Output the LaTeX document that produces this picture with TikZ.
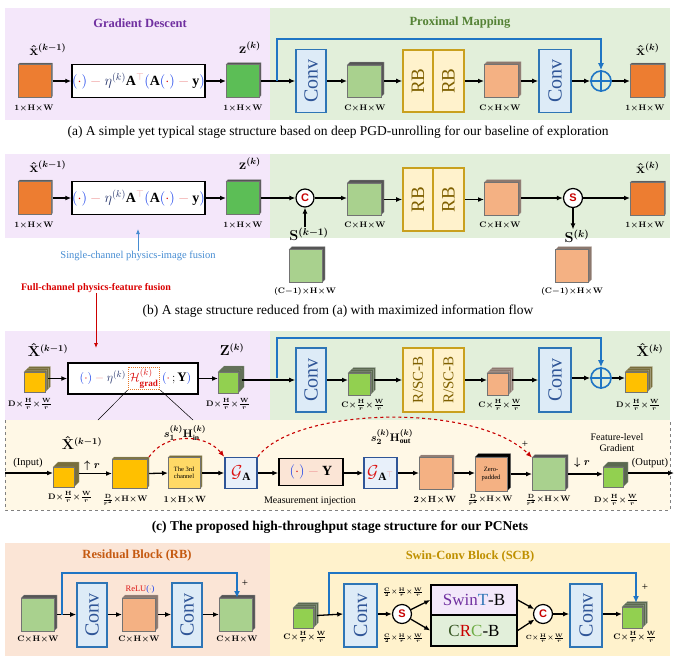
\documentclass[tikz,border=0pt]{standalone}
\usepackage{fontspec}
\setmainfont{Liberation Serif}
\newfontfamily\sansb{Liberation Sans}
\usepackage{amsmath,amssymb}
\usepackage{graphicx}
\usetikzlibrary{arrows.meta,calc}

\definecolor{bgpurple}{RGB}{244,231,250}
\definecolor{bggreen}{RGB}{226,239,218}
\definecolor{bgpeach}{RGB}{251,229,214}
\definecolor{bgyellow}{RGB}{255,242,204}
\definecolor{bgcream}{RGB}{255,248,230}
\definecolor{corange}{RGB}{237,125,49}
\definecolor{cgreen}{RGB}{92,190,86}
\definecolor{clgreen}{RGB}{169,209,142}
\definecolor{clorange}{RGB}{244,177,131}
\definecolor{cbgreen}{RGB}{146,208,80}
\definecolor{cyellow}{RGB}{255,192,0}
\definecolor{clyellow}{RGB}{255,217,102}
\definecolor{skipblue}{RGB}{31,117,196}
\definecolor{convfill}{RGB}{221,235,247}
\definecolor{convdraw}{RGB}{46,117,182}
\definecolor{convtext}{RGB}{47,85,151}
\definecolor{rbdraw}{RGB}{201,160,30}
\definecolor{rbtext}{RGB}{127,96,0}
\definecolor{tpurple}{RGB}{112,48,160}
\definecolor{tgreen}{RGB}{84,130,53}
\definecolor{tbrown}{RGB}{197,90,17}
\definecolor{tgold}{RGB}{191,144,0}
\definecolor{fblue}{RGB}{20,60,235}
\definecolor{fred}{RGB}{220,20,20}
\definecolor{fpink}{RGB}{238,150,150}
\definecolor{fnavy}{RGB}{40,55,110}
\definecolor{cred}{RGB}{200,0,0}
\definecolor{lightblue}{RGB}{70,140,210}
\definecolor{gabox}{RGB}{232,240,250}
\definecolor{gadraw}{RGB}{47,85,151}
\definecolor{injfill}{RGB}{251,229,214}
\definecolor{sdark}{RGB}{85,85,85}
\definecolor{solive}{RGB}{120,110,60}
\definecolor{sgreen}{RGB}{90,105,80}
\definecolor{sbrown}{RGB}{140,120,110}
\definecolor{swinfill}{RGB}{243,232,250}
\definecolor{crcdg}{RGB}{55,86,35}
\definecolor{crcg}{RGB}{112,173,71}
\definecolor{swint}{RGB}{46,117,182}
\definecolor{hgdraw}{RGB}{230,120,40}

\newcommand\tightmu{\medmuskip=0.5mu\relax}

\tikzset{
 arr/.style={-{Latex[length=6pt,width=5pt]}, line width=1.3pt, draw=black},
 thinarr/.style={-{Latex[length=5pt,width=4pt]}, line width=0.8pt},
 skiparr/.style={-{Latex[length=7pt,width=6pt]}, line width=1.8pt, draw=skipblue},
 cubef/.style={draw=black!55, line width=0.4pt, inner sep=0pt, outer sep=0pt},
 convbox/.style={draw=convdraw, fill=convfill, line width=1.6pt, minimum width=30, minimum height=63, inner sep=0, text=convtext, font=\fontsize{20}{20}\selectfont},
 rbbox/.style={draw=rbdraw, fill=bgyellow, line width=1.6pt, minimum width=30, minimum height=62, inner sep=0, text=rbtext, font=\fontsize{19}{19}\selectfont},
 fbox/.style={draw=black, fill=white, line width=1.5pt, minimum width=133, minimum height=33, inner sep=0, font=\fontsize{14}{15}\selectfont},
 dim/.style={inner sep=0, font=\fontsize{8}{9}\selectfont\boldmath\tightmu},
 sdim/.style={inner sep=0, font=\fontsize{6}{7}\selectfont\boldmath\tightmu},
 sym/.style={inner sep=0, font=\fontsize{13.5}{15}\selectfont\boldmath},
 ttl/.style={inner sep=0, font=\fontsize{12.5}{14}\selectfont\bfseries},
 captxt/.style={inner sep=0, font=\fontsize{13.5}{16}\selectfont},
 txt/.style={inner sep=0, font=\fontsize{10}{11}\selectfont, align=center},
 tinytxt/.style={inner sep=0, font=\fontsize{6.5}{7.5}\selectfont, align=center},
 oplus/.style={circle, draw=skipblue, line width=1.6pt, minimum size=20, inner sep=0},
 circ/.style={circle, draw=black, fill=white, line width=1.2pt, minimum size=18, inner sep=0, font=\sansb\bfseries\fontsize{11}{11}\selectfont, text=cred},
 gbox/.style={draw=gadraw, fill=gabox, line width=1.5pt, minimum width=32, minimum height=31, inner sep=0, font=\fontsize{16}{16}\selectfont},
 redd/.style={draw=cred, dashed, line width=1.1pt, -{Latex[length=6pt,width=5pt]}},
}

% name, cx, cy, w, h, front, side, layers, delta
\newcommand\mkcube[9]{%
  \foreach \i in {#8,...,1}{%
    \filldraw[fill=#7, draw=#7!55!white, line width=0.3pt]
      ({#2-#4/2},{#3-#5/2}) -- ++({\i*#9},{-\i*#9}) -- ++(#4,0) -- ++(0,#5)
      -- ({#2+#4/2},{#3+#5/2}) -- ({#2+#4/2},{#3-#5/2}) -- cycle;
  }%
  \node[cubef, fill=#6, minimum width=#4, minimum height=#5] (#1) at (#2,#3) {};
}
\newcommand\dimCHW{$\mathbf{C}\times\mathbf{H}\times\mathbf{W}$}
\newcommand\dimOHW{$\mathbf{1}\times\mathbf{H}\times\mathbf{W}$}
\newcommand\dimDr{$\mathbf{D}\times\frac{\mathbf{H}}{r}\times\frac{\mathbf{W}}{r}$}
\newcommand\dimCr{$\mathbf{C}\times\frac{\mathbf{H}}{r}\times\frac{\mathbf{W}}{r}$}
\newcommand\dimDrr{$\frac{\mathbf{D}}{r^2}\times\mathbf{H}\times\mathbf{W}$}
\newcommand\dimCm{$(\mathbf{C}-\mathbf{1})\times\mathbf{H}\times\mathbf{W}$}
\newcommand\pdot{\textcolor{fblue}{(}\textcolor{fred}{\cdot}\textcolor{fblue}{)}}
\newcommand\pmin{\mathbin{\textcolor{fpink}{-}}}
\newcommand\formA{$\pdot\pmin\textcolor{fnavy}{\eta^{(k)}}\mathbf{A}^{\textcolor{fpink}{\top}}\textcolor{fblue}{(}\mathbf{A}\pdot\pmin\mathbf{y}\textcolor{fblue}{)}$}
\newcommand\convtxt{\rotatebox{90}{Conv}}

\begin{document}
\begin{tikzpicture}[x=1pt,y=-1pt]
\useasboundingbox (0,0) rectangle (675,662);

%================ backgrounds ================
\fill[bgpurple] (5,8) rectangle (270,120);
\fill[bggreen] (270,8) rectangle (670,120);
\fill[bgpurple] (5,154) rectangle (270,238);
\fill[bggreen] (270,154) rectangle (670,238);
\fill[bgpurple] (5,331) rectangle (270,420);
\fill[bggreen] (270,331) rectangle (670,420);
\fill[bgcream] (5,420) rectangle (670,510);
\draw[gray, dashed, line width=0.6pt] (5,420) -- (5,510) -- (670,510) -- (670,420);
\fill[bgpeach] (5,543) rectangle (270,656);
\fill[bgyellow] (270,543) rectangle (670,656);

%================ (a) ================
\node[ttl, text=tpurple] (ta) at (140,23) {Gradient Descent};
\node[ttl, text=tgreen] (tb) at (460,23) {Proximal Mapping};

\mkcube{a1}{34.5}{81}{33}{33}{corange}{sdark}{1}{1.5}
\node[sym] (la1) at (48,50) {$\hat{\mathbf{x}}^{(k-1)}$};
\node[dim] (da1) at (34,108) {\dimOHW};
\node[fbox] (af) at (138.5,81) {\formA};
\mkcube{a2}{242.5}{81}{33}{33}{cgreen}{sdark}{1}{2}
\node[sym] (la2) at (250,48) {$\mathbf{z}^{(k)}$};
\node[dim] (da2) at (243,108) {\dimOHW};
\node[convbox] (a3) at (311,81) {\convtxt};
\mkcube{a4}{364}{81}{34}{32}{clgreen}{sdark}{1}{3}
\node[dim] (da4) at (365,108) {\dimCHW};
\node[rbbox] (a5) at (418,81) {\rotatebox{90}{RB}};
\node[rbbox, minimum width=31] (a6) at (448.5,81) {\rotatebox{90}{RB}};
\mkcube{a7}{501}{81}{34}{33}{clorange}{sbrown}{1}{3}
\node[dim] (da7) at (500,108) {\dimCHW};
\node[convbox, minimum width=32] (a8) at (555,81) {\convtxt};
\node[oplus] (a9) at (601,81) {};
\draw[skipblue, line width=1.5pt] (a9.north) -- (a9.south) (a9.west) -- (a9.east);
\mkcube{a10}{647}{81}{34}{33}{corange}{sdark}{1}{1.5}
\node[sym] (la10) at (648,50) {$\hat{\mathbf{x}}^{(k)}$};
\node[dim] (da10) at (645,108) {\dimOHW};
\coordinate (a11) at (277,81);
\coordinate (a12) at (601,39);

\draw[arr] ([xshift=1.5pt]a1.east) -- (af.west);
\draw[arr] (af.east) -- (a2.west);
\draw[arr] ([xshift=2pt]a2.east) -- (a3.west);
\draw[arr] (a3.east) -- (a4.west);
\draw[arr] ([xshift=3pt]a4.east) -- (a5.west);
\draw[arr] (a6.east) -- (a7.west);
\draw[arr] ([xshift=3pt]a7.east) -- (a8.west);
\draw[arr] (a8.east) -- (a9.west);
\draw[arr] (a9.east) -- (a10.west);
\draw[skiparr] (a11) |- (a12) -- (a9.north);

\node[captxt] (ca) at (338,132) {(a) A simple yet typical stage structure based on deep PGD-unrolling for our baseline of exploration};

%================ (b) ================
\mkcube{b1}{34.5}{198}{33}{33}{corange}{sdark}{1}{1.5}
\node[sym] (lb1) at (48,167) {$\hat{\mathbf{x}}^{(k-1)}$};
\node[dim] (db1) at (34,225) {\dimOHW};
\node[fbox] (bf) at (138.5,198) {\formA};
\mkcube{b2}{242.5}{198}{33}{33}{cgreen}{sdark}{1}{2}
\node[sym] (lb2) at (250,164) {$\mathbf{z}^{(k)}$};
\node[dim] (db2) at (243,225) {\dimOHW};
\node[circ] (b3) at (305,198) {C};
\node[sym, font=\fontsize{14.5}{16}\selectfont\boldmath] (lb3) at (309,234) {$\mathbf{S}^{(k-1)}$};
\mkcube{b4}{305.5}{266}{33}{33}{clgreen}{sdark}{1}{3}
\node[dim] (db4) at (305,291) {\dimCm};
\mkcube{b5}{364}{199}{34}{32}{clgreen}{sdark}{1}{3}
\node[dim] (db5) at (365,225) {\dimCHW};
\node[rbbox, minimum height=63] (b6) at (418,199.5) {\rotatebox{90}{RB}};
\node[rbbox, minimum height=63, minimum width=31] (b7) at (448.5,199.5) {\rotatebox{90}{RB}};
\mkcube{b8}{501}{199}{34}{33}{clorange}{sbrown}{1}{3}
\node[dim] (db8) at (500,225) {\dimCHW};
\node[circ, minimum size=19] (b9) at (573,198) {S};
\node[sym, font=\fontsize{14.5}{16}\selectfont\boldmath] (lb9) at (577,236) {$\mathbf{S}^{(k)}$};
\mkcube{b10}{572}{266}{33}{33}{clorange}{sbrown}{1}{3}
\node[dim] (db10) at (572,291) {\dimCm};
\mkcube{b11}{647}{199}{34}{33}{corange}{sdark}{1}{1.5}
\node[sym] (lb11) at (648,168) {$\hat{\mathbf{x}}^{(k)}$};
\node[dim] (db11) at (645,225) {\dimOHW};

\draw[arr] ([xshift=1.5pt]b1.east |- bf.west) -- (bf.west);
\draw[arr] (bf.east) -- (b2.west |- bf.east);
\draw[arr] ([xshift=2pt]b2.east |- b3.west) -- (b3.west);
\draw[arr] (b3.east) -- (b5.west |- b3.east);
\draw[arr] (b3.south |- lb3.north) -- (b3.south);
\draw[arr] ([xshift=3pt]b5.east |- b6.west) -- (b6.west);
\draw[arr] (b7.east) -- (b8.west |- b7.east);
\draw[arr] ([xshift=3pt]b8.east |- b9.west) -- (b9.west);
\draw[arr] (b9.east) -- (b11.west |- b9.east);
\draw[arr] (b9.south) -- (b9.south |- lb9.north);

\node[txt, text=lightblue, font=\fontsize{10.5}{12}\selectfont] (sct) at (138,256) {Single-channel physics-image fusion};
\coordinate (sca) at (138,229);
\draw[thinarr, draw=lightblue] (sct.north -| sca) -- (sca);
\node[txt, text=red!85!black, font=\fontsize{10}{12}\selectfont\bfseries] (rct) at (96,288) {Full-channel physics-feature fusion};
\coordinate (rca) at (96,348);
\draw[thinarr, draw=red!80!black] (rct.south -| rca) -- (rca);

\node[captxt] (cb) at (338,311) {(b) A stage structure reduced from (a) with maximized information flow};

%================ (c) top ================
\mkcube{c1}{34.5}{382}{21}{20}{cyellow}{solive}{3}{1.8}
\node[sym] (lc1) at (48,350) {$\hat{\mathbf{X}}^{(k-1)}$};
\node[dim] (dc1) at (30,404) {\dimDr};
\node[fbox, minimum width=130, minimum height=31] (c2) at (133,378.5) {};
\node[inner sep=1.5pt, draw=hgdraw, densely dotted, line width=1pt, font=\fontsize{13}{14}\selectfont] (hg) at (144,378.5) {$\textcolor{fred}{\mathcal{H}^{(k)}_{\mathbf{grad}}}$};
\node[inner sep=0, anchor=base east, font=\fontsize{13}{14}\selectfont] (f1) at ([xshift=-1.5pt]hg.base west) {$\pdot\pmin\textcolor{fnavy}{\eta^{(k)}}$};
\node[inner sep=0, anchor=base west, font=\fontsize{13}{14}\selectfont] (f3) at ([xshift=1.5pt]hg.base east) {$\textcolor{fblue}{(}\textcolor{fred}{\cdot}\,;\mathbf{Y}\textcolor{fblue}{)}$};
\coordinate (cl1) at (98,420);
\coordinate (cl2) at (193,420);
\draw[line width=0.5pt] (hg.south west) -- (cl1) (hg.south east) -- (cl2);
\mkcube{c3}{228}{382.5}{20}{21}{cbgreen}{sgreen}{3}{2}
\node[sym] (lc3) at (232,350) {$\mathbf{Z}^{(k)}$};
\node[dim] (dc3) at (228,404) {\dimDr};
\node[convbox, minimum height=64] (c4) at (311,380) {\convtxt};
\mkcube{c5}{359}{384}{22}{22}{cbgreen}{sgreen}{3}{1.8}
\node[dim] (dc5) at (363,405) {\dimCr};
\node[rbbox, minimum height=64, font=\fontsize{15}{15}\selectfont] (c6) at (418,380) {\rotatebox{90}{R/SC-B}};
\node[rbbox, minimum height=64, minimum width=31, font=\fontsize{15}{15}\selectfont] (c7) at (448.5,380) {\rotatebox{90}{R/SC-B}};
\mkcube{c8}{497.5}{384}{21}{22}{clorange}{sbrown}{3}{1.8}
\node[dim] (dc8) at (500,405) {\dimCr};
\node[convbox, minimum height=64, minimum width=32] (c9) at (555,380) {\convtxt};
\node[oplus] (c10) at (601,378) {};
\draw[skipblue, line width=1.5pt] (c10.north) -- (c10.south) (c10.west) -- (c10.east);
\mkcube{c11}{636}{382}{22}{20}{cyellow}{solive}{3}{1.8}
\node[sym] (lc11) at (650,350) {$\hat{\mathbf{X}}^{(k)}$};
\node[dim] (dc11) at (638,405) {\dimDr};
\coordinate (c12) at (277,378);
\coordinate (c13) at (601,338);

\draw[arr] ([xshift=3pt]c1.east |- c2.west) -- (c2.west);
\draw[arr] (c2.east) -- (c3.west |- c2.east);
\draw[arr] ([xshift=4pt]c3.east |- c4.west) -- (c4.west);
\draw[arr] (c4.east) -- (c5.west |- c4.east);
\draw[arr] ([xshift=4pt]c5.east |- c6.west) -- (c6.west);
\draw[arr] (c7.east) -- (c8.west |- c7.east);
\draw[arr] ([xshift=4pt]c8.east |- c9.west) -- (c9.west);
\draw[arr] (c9.east |- c10.west) -- (c10.west);
\draw[arr] (c10.east) -- (c11.west |- c10.east);
\draw[skiparr] (c12) |- (c13) -- (c10.north);

%================ (c) bottom ================
\node[txt, font=\fontsize{10.5}{12}\selectfont] (din) at (28,463) {(Input)};
\coordinate (d0) at (5,473);
\mkcube{d1}{63.5}{477}{21}{20}{cyellow}{solive}{1}{5}
\node[sym] (ld1) at (82,443) {$\hat{\mathbf{X}}^{(k-1)}$};
\node[dim] (dd1) at (70,497) {\dimDr};
\node[sym, font=\fontsize{11}{12}\selectfont\boldmath] (dup) at (92,466) {$\uparrow r$};
\mkcube{d2}{129.5}{473.5}{35}{29}{cyellow}{solive}{1}{2}
\node[dim] (dd2) at (125,500) {\dimDrr};
\mkcube{d3}{184}{473}{32}{31}{clyellow}{solive}{1}{2}
\node[tinytxt] (d3t) at (184,473) {The 3rd\\channel};
\node[dim, font=\fontsize{9}{10}\selectfont\boldmath\tightmu] (dd3) at (185,500) {\dimOHW};
\node[gbox] (d4) at (241,473) {$\textcolor{fred}{\mathcal{G}}_{\mathbf{A}}$};
\node[draw=black, fill=injfill, line width=1.5pt, minimum width=64, minimum height=27, inner sep=0, font=\fontsize{14}{15}\selectfont] (d5) at (311,472) {$\pdot\pmin\mathbf{Y}$};
\node[txt] (dmi) at (310,501) {Measurement injection};
\node[gbox, minimum width=33] (d6) at (380.5,473) {$\textcolor{fred}{\mathcal{G}}_{\mathbf{A}^{\textcolor{fpink}{\top}}}$};
\mkcube{d7}{435.5}{473}{33}{32}{clorange}{sbrown}{1}{2}
\node[dim, font=\fontsize{9}{10}\selectfont\boldmath\tightmu] (dd7) at (435,500) {$\mathbf{2}\times\mathbf{H}\times\mathbf{W}$};
\mkcube{d8}{491}{474}{32}{34}{clorange}{black}{1}{3.5}
\node[tinytxt] (d8t) at (491,474) {Zero-\\padded};
\node[dim] (dd8) at (490,500) {\dimDrr};
\mkcube{d9}{548.5}{474}{33}{33}{clgreen}{sdark}{1}{3}
\node[dim] (dd9) at (548,500) {\dimDrr};
\node[txt, font=\fontsize{11}{12}\selectfont] (dplus) at (525,444) {+};
\node[sym, font=\fontsize{11}{12}\selectfont\boldmath] (ddn) at (582,463) {$\downarrow r$};
\mkcube{d10}{613}{477}{20}{20}{cbgreen}{sgreen}{1}{5}
\node[dim] (dd10) at (616,500) {\dimDr};
\node[txt] (dfg) at (617,443) {Feature-level\\Gradient};
\node[txt, font=\fontsize{10.5}{12}\selectfont] (dout) at (650,463) {(Output)};
\coordinate (d11) at (674,473);
\node[sym, font=\fontsize{11}{12}\selectfont\boldmath] (ds1) at (185,433) {$s_1^{(k)}\mathbf{H}_{\mathrm{in}}^{(k)}$};
\node[sym, font=\fontsize{11}{12}\selectfont\boldmath] (ds2) at (392,437) {$s_2^{(k)}\mathbf{H}_{\mathrm{out}}^{(k)}$};

\draw[arr] (d0) -- (d1.west |- d0);
\draw[arr] ([xshift=5pt]d1.east |- d2.west) -- (d2.west);
\draw[arr] ([xshift=2pt]d2.east) -- (d3.west);
\draw[arr] ([xshift=2pt]d3.east) -- (d4.west);
\draw[arr] (d4.east) -- (d5.west |- d4.east);
\draw[arr] (d5.east |- d6.west) -- (d6.west);
\draw[arr] (d6.east) -- (d7.west);
\draw[arr] ([xshift=2pt]d7.east) -- (d8.west |- d7.east);
\draw[arr] ([xshift=3.5pt]d8.east |- d9.west) -- (d9.west);
\draw[arr] ([xshift=3pt]d9.east) -- (d10.west |- d9.east);
\draw[arr] ([xshift=5pt]d10.east |- d11) -- (d11);
\draw[redd] ([xshift=2pt,yshift=2pt]d2.north east) .. controls (165,433) and (205,433) .. (d4.north west);
\draw[redd] (d4.north east) .. controls (295,407) and (475,402) .. (d9.north west);

\node[captxt, font=\fontsize{13.5}{16}\selectfont\bfseries] (cc) at (340,527) {(c) The proposed high-throughput stage structure for our PCNets};

%================ bottom: RB and SCB ================
\node[ttl, text=tbrown] (te) at (137,555) {Residual Block (RB)};
\node[ttl, text=tgold] (tg) at (470,556) {Swin-Conv Block (SCB)};

\mkcube{e1}{37.5}{614.5}{33}{33}{clgreen}{sdark}{1}{3}
\node[dim] (de1) at (38,639) {\dimCHW};
\node[convbox, minimum height=64] (e2) at (92,615) {\convtxt};
\mkcube{e3}{138.5}{614.5}{33}{33}{clorange}{sbrown}{1}{3}
\node[inner sep=0, font=\fontsize{8.5}{9}\selectfont] (le3) at (140,589) {\textcolor{fred}{ReLU}\textcolor{fblue}{(}{\color{fblue}$\cdot$}\textcolor{fblue}{)}};
\node[dim] (de3) at (139,639) {\dimCHW};
\node[convbox, minimum height=64] (e4) at (187,615) {\convtxt};
\mkcube{e5}{235.5}{614.5}{33}{33}{clgreen}{sdark}{1}{3}
\node[txt, font=\fontsize{11}{12}\selectfont] (eplus) at (245,583) {+};
\node[dim] (de5) at (237,639) {\dimCHW};
\coordinate (e6) at (62,614.5);
\coordinate (e7) at (237,573);

\draw[arr] ([xshift=3pt]e1.east) -- (e2.west |- e1.east);
\draw[arr] (e2.east |- e3.west) -- (e3.west);
\draw[arr] ([xshift=3pt]e3.east) -- (e4.west |- e3.east);
\draw[arr] (e4.east |- e5.west) -- (e5.west);
\draw[skiparr] (e6) |- (e7) -- (e7 |- e5.north);

\mkcube{g1}{303}{618}{20}{20}{cbgreen}{sgreen}{3}{1.8}
\node[dim] (dg1) at (305,637) {\dimCr};
\node[convbox, minimum width=33] (g2) at (360.5,615.5) {\convtxt};
\node[circ, minimum size=19] (g3) at (402,614) {S};
\node[sdim] (dg3a) at (403,592) {$\frac{\mathbf{C}}{2}\times\frac{\mathbf{H}}{r}\times\frac{\mathbf{W}}{r}$};
\node[sdim] (dg3b) at (403,638) {$\frac{\mathbf{C}}{2}\times\frac{\mathbf{H}}{r}\times\frac{\mathbf{W}}{r}$};
\node[draw=black, fill=swinfill, line width=1.5pt, minimum width=86, minimum height=30, inner sep=0, font=\fontsize{17}{18}\selectfont] (g4) at (474,600) {\textcolor{tpurple}{Swin}\textcolor{swint}{T}-B};
\node[draw=black, fill=bggreen, line width=1.5pt, minimum width=86, minimum height=31, inner sep=0, font=\fontsize{17}{18}\selectfont] (g5) at (474,630.5) {\textcolor{crcdg}{C}\textcolor{cred}{R}\textcolor{crcg}{C}-B};
\node[circ, minimum size=19] (g6) at (543,614) {C};
\node[sdim] (dg6) at (545,638) {\dimCr};
\node[convbox, minimum width=32] (g7) at (586,615.5) {\convtxt};
\mkcube{g8}{632}{617.5}{20}{21}{cbgreen}{sgreen}{3}{1.8}
\node[txt, font=\fontsize{11}{12}\selectfont] (gplus) at (645,587) {+};
\node[dim] (dg8) at (635,637) {\dimCr};
\coordinate (g9) at (329,614);
\coordinate (g10) at (636,573);
\coordinate (g11) at (636,603);

\draw[arr] ([xshift=4pt]g1.east |- g2.west) -- (g2.west |- g3);
\draw[arr] (g2.east |- g3.west) -- (g3.west);
\draw[arr] (g3) -- (g4.west);
\draw[arr] (g3) -- (g5.west);
\draw[arr] (g4.east) -- (g6);
\draw[arr] (g5.east) -- (g6);
\draw[arr] (g6.east) -- (g7.west |- g6.east);
\draw[arr] (g7.east |- g6.east) -- (g8.west |- g6.east);
\draw[skiparr] (g9) |- (g10) -- (g11);
\end{tikzpicture}
\end{document}
